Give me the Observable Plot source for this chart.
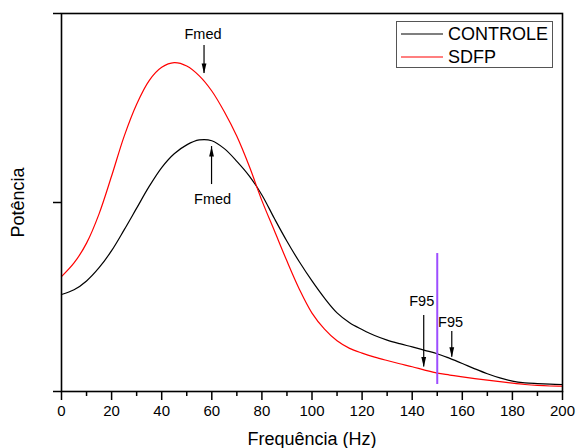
<!DOCTYPE html>
<html>
<head>
<meta charset="utf-8">
<script src="https://cdn.jsdelivr.net/npm/d3@7"></script>
<script src="https://cdn.jsdelivr.net/npm/@observablehq/plot@0.6"></script>
<style>
  html, body { margin: 0; padding: 0; background: #fff; }
  #wrap { position: relative; width: 581px; height: 448px; font-family: "Liberation Sans", Arial, sans-serif; }
  #legend { position: absolute; left: 396px; top: 21px; width: 157px; height: 47px; border: 1px solid #555; box-sizing: border-box; background: #fff; }
  .row { position: absolute; left: 4px; height: 20px; display: flex; align-items: center; font-size: 18px; color: #000; }
  .row svg { margin-right: 5px; display: block; }
</style>
</head>
<body>
<div id="wrap"></div>
<script>
// Frequency (Hz)
const freq = [0,5,10,15,20,25,30,35,40,45,50,55,60,65,70,75,80,85,90,95,100,105,110,115,120,125,130,135,140,145,150,155,160,165,170,175,180,185,190,195,200];
// Power (arbitrary units)
const controle = [0.513,0.538,0.585,0.655,0.745,0.855,0.970,1.085,1.185,1.258,1.305,1.331,1.327,1.285,1.218,1.140,1.040,0.915,0.795,0.685,0.585,0.494,0.416,0.364,0.328,0.296,0.272,0.253,0.236,0.218,0.200,0.175,0.148,0.120,0.094,0.072,0.055,0.046,0.042,0.039,0.037];
const sdfp = [0.608,0.680,0.785,0.940,1.140,1.350,1.520,1.645,1.715,1.740,1.722,1.670,1.590,1.480,1.350,1.190,1.010,0.850,0.690,0.540,0.415,0.330,0.268,0.228,0.203,0.182,0.164,0.147,0.131,0.113,0.097,0.087,0.077,0.068,0.060,0.052,0.044,0.037,0.032,0.029,0.028];
const seriesNames = ["CONTROLE", "SDFP"];
const seriesColors = ["#000000", "#ff0000"];
const xTicks = [0,20,40,60,80,100,120,140,160,180,200];
const xMinorTicks = [10,30,50,70,90,110,130,150,170,190];
const yTicks = [0,1,2];
// Annotations
const annLabels = ["Fmed", "Fmed", "F95", "F95"];
const annTextX = [56.5, 60.3, 143.8, 155.3];
const annTextY = [1.889, 1.016, 0.476, 0.365];
const annArrowX = [56.9, 59.9, 144.6, 155.8];
const annArrowFrom = [1.831, 1.095, 0.402, 0.317];
const annArrowTo = [1.683, 1.296, 0.129, 0.181];
const markerX = [150];
const markerY1 = [0.73];
const markerY2 = [0.037];

const lineData = [];
seriesNames.forEach((name, k) => {
  const vals = k === 0 ? controle : sdfp;
  freq.forEach((f, i) => lineData.push({series: name, x: f, y: vals[i]}));
});
const ann = annLabels.map((t, i) => ({t, tx: annTextX[i], ty: annTextY[i], ax: annArrowX[i], a1: annArrowFrom[i], a2: annArrowTo[i], up: annArrowTo[i] > annArrowFrom[i]}));
const marker = markerX.map((x, i) => ({x, y1: markerY1[i], y2: markerY2[i]}));

const headSymbol = {
  draw(ctx, size) {
    ctx.moveTo(0, 0);
    ctx.lineTo(-2.4, 10);
    ctx.lineTo(2.4, 10);
    ctx.closePath();
  }
};

const chart = Plot.plot({
  width: 581,
  height: 448,
  marginLeft: 61,
  marginRight: 19,
  marginTop: 13,
  marginBottom: 57,
  style: {fontFamily: "'Liberation Sans', Arial, sans-serif", background: "#fff", color: "#000"},
  x: {domain: [0, 200]},
  y: {domain: [0, 2]},
  color: {domain: seriesNames, range: seriesColors},
  marks: [
    Plot.line(lineData, {x: "x", y: "y", z: "series", stroke: "series", strokeWidth: 1.2, curve: "catmull-rom"}),
    Plot.ruleX(marker, {x: "x", y1: "y1", y2: "y2", stroke: "#9d4dff", strokeWidth: 2}),
    Plot.ruleX(ann, {x: "ax", y1: "a1", y2: "a2", stroke: "#000", strokeWidth: 1.2}),
    Plot.dot(ann, {x: "ax", y: "a2", symbol: headSymbol, fill: "#000", stroke: null, rotate: d => d.up ? 0 : 180}),
    Plot.text(ann, {x: "tx", y: "ty", text: "t", fontSize: 14.5, fill: "#000"}),
    Plot.axisX({ticks: xTicks, tickSize: 9, tickPadding: 5, fontSize: 15, strokeWidth: 1.5, label: null}),
    Plot.axisX({ticks: xMinorTicks, tickSize: 5, tickFormat: () => "", strokeWidth: 1.5, label: null}),
    Plot.axisY({ticks: yTicks, tickSize: 8, tickFormat: () => "", strokeWidth: 1.5, label: null}),
    Plot.frame({stroke: "#000", strokeWidth: 1.6}),
    Plot.text(["Frequência (Hz)"], {frameAnchor: "bottom", lineAnchor: "middle", dy: 48, fontSize: 18, fill: "#000"}),
    Plot.text(["Potência"], {frameAnchor: "left", textAnchor: "middle", lineAnchor: "middle", dx: -43, rotate: -90, fontSize: 18, fill: "#000"})
  ]
});

const wrap = document.getElementById("wrap");
wrap.appendChild(chart);
const legend = document.createElement("div");
legend.id = "legend";
const svgNS = "http://www.w3.org/2000/svg";
seriesNames.forEach((name, i) => {
  const row = document.createElement("div");
  row.className = "row";
  row.style.top = (i === 0 ? 2 : 25) + "px";
  const sw = document.createElementNS(svgNS, "svg");
  sw.setAttribute("width", "42");
  sw.setAttribute("height", "4");
  const ln = document.createElementNS(svgNS, "line");
  ln.setAttribute("x1", "0"); ln.setAttribute("x2", "42");
  ln.setAttribute("y1", "2"); ln.setAttribute("y2", "2");
  ln.setAttribute("stroke", seriesColors[i]);
  ln.setAttribute("stroke-width", "1.2");
  sw.appendChild(ln);
  row.appendChild(sw);
  const t = document.createElement("span");
  t.textContent = name;
  row.appendChild(t);
  legend.appendChild(row);
});
wrap.appendChild(legend);
</script>
</body>
</html>
